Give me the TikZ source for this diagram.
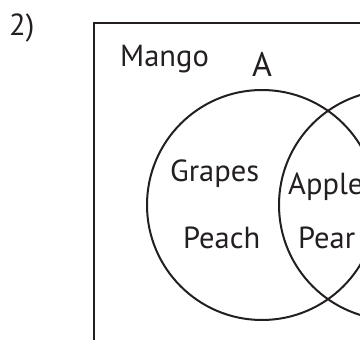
\documentclass[tikz,border=0pt]{standalone}
\usepackage{fontspec}
\setmainfont{PT Sans}
\definecolor{ink}{HTML}{231F20}
\begin{document}
\begin{tikzpicture}[x=1pt,y=-1pt,
  lbl/.style={anchor=base west,inner sep=0pt,text=ink,font=\fontsize{30.5}{36}\selectfont},
  setcircle/.style={circle,draw=ink,line width=2pt,minimum size=230pt,inner sep=0pt}]
\useasboundingbox (0,0) rectangle (360,340);
\clip (0,0) rectangle (360,340);
\node[draw=ink,line width=2.2pt,minimum width=320pt,minimum height=340pt,anchor=north west,inner sep=0pt] (U) at (93,22) {};
\node[setcircle] (A) at (262,205) {};
\node[setcircle] (B) at (394,205) {};
\node[lbl] (n2) at (9,35) {2)};
\node[lbl] (mango) at (120,66.5) {Mango};
\node[lbl,font=\fontsize{34}{40}\selectfont] (la) at (252,77) {A};
\node[lbl] (grapes) at (170,181.5) {Grapes};
\node[lbl] (peach) at (183,248) {Peach};
\node[lbl] (apple) at (288,195) {Apple};
\node[lbl] (pear) at (298,248) {Pear};
\end{tikzpicture}
\end{document}
